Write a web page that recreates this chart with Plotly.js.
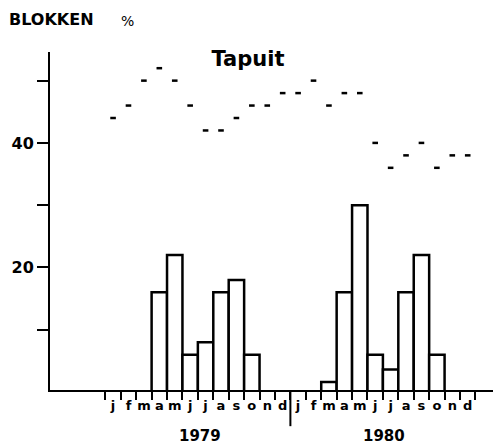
<!DOCTYPE html>
<html>
<head>
<meta charset="utf-8">
<script src="https://cdn.plot.ly/plotly-3.0.1.min.js"></script>
<style>html,body{margin:0;padding:0;background:#fff;}#chart{width:493px;height:447px;}</style>
</head>
<body>
<div id="chart"></div>
<script>
// ---- data ----
const monthLabels = ['j','f','m','a','m','j','j','a','s','o','n','d'];
const years = ['1979', '1980'];
// bars (% per month), null = no bar
const bars1979 = [null, null, null, 16, 22, 6, 8, 16, 18, 6, null, null];
const bars1980 = [null, null, 1.6, 16, 30, 6, 3.6, 16, 22, 6, null, null];
// dashes (% per month)
const dash1979 = [44, 46, 50, 52, 50, 46, 42, 42, 44, 46, 46, 48];
const dash1980 = [48, 50, 46, 48, 48, 40, 36, 38, 40, 36, 38, 38];
const yTickVals = [10, 20, 30, 40, 50];
const yTickText = ['', '20', '', '40', ''];

// ---- build ----
const allMonths = monthLabels.concat(monthLabels);
const xIdx = allMonths.map((_, i) => i);
const barVals = bars1979.concat(bars1980);
const dashVals = dash1979.concat(dash1980);
const boundaries = allMonths.map((_, i) => i - 0.5).concat([allMonths.length - 0.5]);

const font = 'DejaVu Sans, Arial, sans-serif';
const xr = [-4.09, 24.64];

const traces = [
  {
    type: 'bar', x: xIdx, y: barVals, width: 1,
    marker: {color: 'rgba(255,255,255,1)', line: {color: '#000', width: 2.5}},
    hoverinfo: 'skip', showlegend: false
  },
  {
    type: 'scatter', mode: 'markers', x: xIdx, y: dashVals,
    marker: {symbol: 'line-ew', size: 4, color: '#000', line: {color: '#000', width: 2.5}},
    hoverinfo: 'skip', showlegend: false, cliponaxis: false
  },
  {
    type: 'scatter', mode: 'markers', x: [0], y: [null], xaxis: 'x2', yaxis: 'y',
    hoverinfo: 'skip', showlegend: false
  }
];

const layout = {
  width: 493, height: 447,
  margin: {l: 50, r: 0, t: 52, b: 57},
  paper_bgcolor: '#fff', plot_bgcolor: '#fff',
  bargap: 0,
  title: {
    text: 'Tapuit', x: 248/493, xref: 'container', xanchor: 'center',
    y: 1 - 59/447, yref: 'container', yanchor: 'middle',
    font: {family: font, size: 21, weight: 'bold', color: '#000'}
  },
  xaxis: {
    range: xr, showgrid: false, zeroline: false,
    showline: true, linecolor: '#000', linewidth: 2,
    tickvals: xIdx, ticktext: allMonths, ticks: '',
    tickfont: {family: font, size: 13, weight: 'bold', color: '#000'},
    ticklabelstandoff: 2
  },
  xaxis2: {
    range: xr, overlaying: 'x', anchor: 'y', side: 'bottom',
    showgrid: false, zeroline: false, showline: false,
    tickvals: boundaries, showticklabels: false,
    ticks: 'outside', ticklen: 9, tickwidth: 2, tickcolor: '#000'
  },
  yaxis: {
    range: [0.32, 54.6], showgrid: false, zeroline: false,
    showline: true, linecolor: '#000', linewidth: 2,
    tickvals: yTickVals, ticktext: yTickText,
    ticks: 'outside', ticklen: 11, tickwidth: 2, tickcolor: '#000',
    tickfont: {family: font, size: 16, weight: 'bold', color: '#000'}
  },
  shapes: [
    {type: 'line', xref: 'x', yref: 'paper', x0: 11.5, x1: 11.5, y0: 0, y1: -0.107,
     line: {color: '#000', width: 2}}
  ],
  annotations: [
    {text: 'BLOKKEN', xref: 'paper', yref: 'paper', x: (7-50)/443, y: (390-19.5)/338,
     xanchor: 'left', yanchor: 'middle', showarrow: false,
     font: {family: font, size: 16, weight: 'bold', color: '#000'}},
    {text: '%', xref: 'paper', yref: 'paper', x: (127-50)/443, y: (390-20.5)/338,
     xanchor: 'center', yanchor: 'middle', showarrow: false,
     font: {family: font, size: 14, color: '#000'}},
    {text: years[0], xref: 'paper', yref: 'paper', x: (200-50)/443, y: (390-446)/338,
     xanchor: 'center', yanchor: 'bottom', showarrow: false, borderpad: 0,
     font: {family: font, size: 15, weight: 'bold', color: '#000'}},
    {text: years[1], xref: 'paper', yref: 'paper', x: (384-50)/443, y: (390-446)/338,
     xanchor: 'center', yanchor: 'bottom', showarrow: false, borderpad: 0,
     font: {family: font, size: 15, weight: 'bold', color: '#000'}}
  ]
};

Plotly.newPlot('chart', traces, layout, {displayModeBar: false, staticPlot: true});
</script>
</body>
</html>
